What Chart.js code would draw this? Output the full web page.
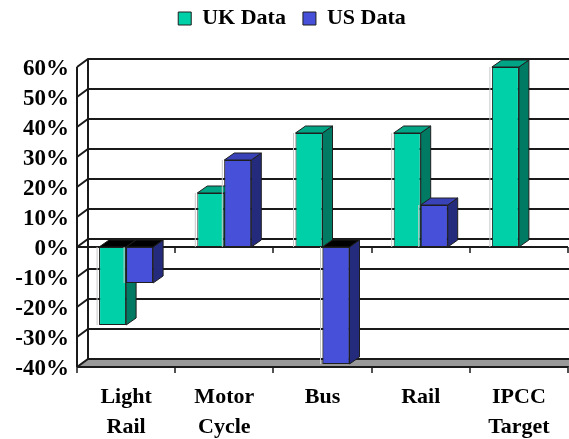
<!DOCTYPE html>
<html>
<head>
<meta charset="utf-8">
<script src="https://cdn.jsdelivr.net/npm/chart.js@4.4.1/dist/chart.umd.min.js"></script>
<style>
  html, body { margin: 0; padding: 0; background: #fff; }
  #wrap { width: 569px; height: 439px; position: relative; }
</style>
</head>
<body>
<div id="wrap"><canvas id="chart"></canvas></div>
<script>
const categories = [['Light', 'Rail'], ['Motor', 'Cycle'], 'Bus', 'Rail', ['IPCC', 'Target']];
const ukData = [-26, 18, 38, 38, 60];
const usData = [-12, 29, -39, 14, null];
const yTicks = [-40, -30, -20, -10, 0, 10, 20, 30, 40, 50, 60];

const FONT = '"Liberation Serif", "Times New Roman", serif';
const WALL_DX = 11, WALL_DY = -8;
const BAR_DX = 10, BAR_DY = -7;

const shades = [
  { face: '#00d0a8', side: '#007a62', top: '#00a585' },
  { face: '#4650d8', side: '#242a7c', top: '#3a42b8' }
];

Chart.defaults.font.family = FONT;
Chart.defaults.font.weight = 'bold';
Chart.defaults.color = '#000';

function poly(ctx, pts, fill) {
  ctx.beginPath();
  ctx.moveTo(pts[0][0], pts[0][1]);
  for (let i = 1; i < pts.length; i++) ctx.lineTo(pts[i][0], pts[i][1]);
  ctx.closePath();
  ctx.fillStyle = fill;
  ctx.fill();
  ctx.stroke();
}

// keeps room between the legend and the plot, nudges the legend right
const legendGap = {
  id: 'legendGap',
  beforeLayout(chart) {
    const lg = chart.legend;
    if (lg && !lg.fixedFit) {
      const fit = lg.fit.bind(lg);
      lg.fit = () => { fit(); lg.height = 76.5; };
      lg.fixedFit = true;
    }
  },
  afterLayout(chart) {
    chart.legend.left += 8;
    chart.legend.right += 8;
  }
};

// back wall, side wall, floor and axis lines
const walls = {
  id: 'walls',
  beforeDatasetsDraw(chart) {
    const { ctx, chartArea: a, scales: { y } } = chart;
    const catW = (a.right - a.left) / categories.length;
    ctx.save();

    const fy = y.getPixelForValue(-40);
    ctx.strokeStyle = '#111';
    ctx.lineWidth = 1;
    poly(ctx, [[a.left, fy], [a.right, fy], [a.right + WALL_DX, fy + WALL_DY], [a.left + WALL_DX, fy + WALL_DY]], '#999');

    ctx.lineWidth = 2;
    ctx.strokeStyle = '#1a1a1a';
    yTicks.forEach(v => {
      const py = y.getPixelForValue(v);
      ctx.beginPath();
      ctx.moveTo(a.left, py);
      ctx.lineTo(a.left + WALL_DX, py + WALL_DY);
      ctx.lineTo(a.right + WALL_DX, py + WALL_DY);
      ctx.stroke();
    });

    ctx.beginPath();
    ctx.moveTo(a.left, a.top);
    ctx.lineTo(a.left, a.bottom);
    ctx.moveTo(a.left + WALL_DX, a.top + WALL_DY);
    ctx.lineTo(a.left + WALL_DX, a.bottom + WALL_DY);
    const zy = y.getPixelForValue(0);
    ctx.moveTo(a.left, zy);
    ctx.lineTo(a.right, zy);
    ctx.moveTo(a.left, a.bottom);
    ctx.lineTo(a.right, a.bottom);
    ctx.stroke();

    ctx.lineWidth = 1.5;
    ctx.beginPath();
    for (let i = 0; i <= categories.length; i++) {
      const px = Math.round(a.left + i * catW);
      ctx.moveTo(px, zy);
      ctx.lineTo(px, zy + 6);
      ctx.moveTo(px, a.bottom);
      ctx.lineTo(px, a.bottom + 6);
    }
    ctx.stroke();
    ctx.restore();
  }
};

// side and top faces; category by category so the US front covers the UK side
const depth = {
  id: 'depth',
  afterDatasetsDraw(chart) {
    const { ctx } = chart;
    ctx.save();
    ctx.lineJoin = 'round';
    categories.forEach((c, i) => {
      chart.data.datasets.forEach((ds, d) => {
        if (ds.data[i] === null) return;
        const bar = chart.getDatasetMeta(d).data[i];
        if (d > 0) bar.draw(ctx);
        const { x, y, base, width } = bar.getProps(['x', 'y', 'base', 'width'], true);
        const l = x - width / 2, r = x + width / 2;
        const top = Math.min(y, base), bottom = Math.max(y, base);
        ctx.strokeStyle = '#1e1e1e';
        ctx.lineWidth = 1;
        poly(ctx, [[r, top], [r + BAR_DX, top + BAR_DY], [r + BAR_DX, bottom + BAR_DY], [r, bottom]], shades[d].side);
        poly(ctx, [[l, top], [l + BAR_DX, top + BAR_DY], [r + BAR_DX, top + BAR_DY], [r, top]], y > base ? '#000' : shades[d].top);
        // light edge on the left of the front face
        ctx.strokeStyle = '#c8c8c8';
        ctx.beginPath();
        ctx.moveTo(l - 2, top);
        ctx.lineTo(l - 2, bottom);
        ctx.stroke();
      });
    });
    ctx.restore();
  }
};

function build() {
  new Chart(document.getElementById('chart').getContext('2d'), {
    type: 'bar',
    data: {
      labels: categories,
      datasets: [
        {
          label: 'UK Data',
          data: ukData,
          backgroundColor: shades[0].face,
          borderColor: '#1e1e1e',
          borderWidth: 1,
          borderSkipped: false
        },
        {
          label: 'US Data',
          data: usData,
          backgroundColor: shades[1].face,
          borderColor: '#1e1e1e',
          borderWidth: 1,
          borderSkipped: false
        }
      ]
    },
    options: {
      responsive: true,
      maintainAspectRatio: false,
      animation: false,
      layout: { padding: { top: -9.5, right: 1, bottom: 0, left: 0 } },
      datasets: { bar: { categoryPercentage: 0.55, barPercentage: 1 } },
      scales: {
        x: {
          afterFit(scale) { scale.height = 72; },
          grid: { display: false },
          border: { display: false },
          ticks: {
            padding: 7,
            maxRotation: 0,
            autoSkip: false,
            font: { family: FONT, size: 22, weight: 'bold', lineHeight: 1.38 }
          }
        },
        y: {
          min: -40,
          max: 60,
          afterFit(scale) { scale.width = 77; },
          afterBuildTicks(scale) { scale.ticks = yTicks.map(v => ({ value: v })); },
          grid: { display: false },
          border: { display: false },
          ticks: {
            padding: 0,
            labelOffset: 2,
            autoSkip: false,
            font: { family: FONT, size: 23, weight: 'bold', lineHeight: 1 },
            callback: (v) => v + '%'
          }
        }
      },
      plugins: {
        legend: {
          position: 'top',
          labels: {
            boxWidth: 13,
            boxHeight: 13,
            padding: 17,
            font: { family: FONT, size: 22, weight: 'bold' }
          }
        },
        tooltip: { enabled: false }
      }
    },
    plugins: [legendGap, walls, depth]
  });
}

document.fonts.load('bold 22px "Liberation Serif"').then(build, build);
</script>
</body>
</html>
